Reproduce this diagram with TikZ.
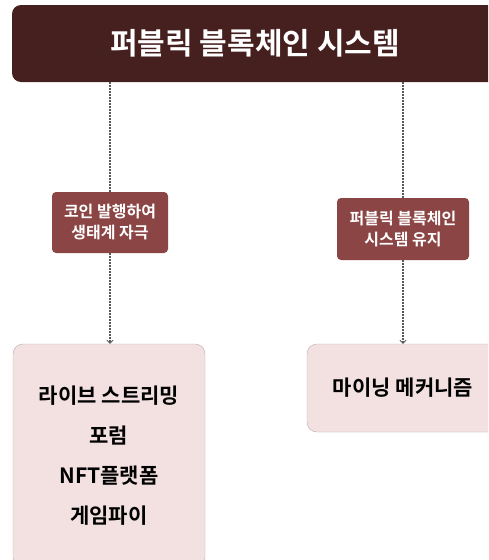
\documentclass[tikz,border=0pt]{standalone}
\usepackage{fontspec}
\setmainfont{Noto Sans CJK KR}[BoldFont={Noto Sans CJK KR Bold}]
\usetikzlibrary{arrows.meta}
\definecolor{titlebrown}{HTML}{45201F}
\definecolor{tagred}{HTML}{8B4545}
\definecolor{boxpink}{HTML}{F3E1E1}
\definecolor{boxline}{HTML}{B5ABAB}
\begin{document}
\begin{tikzpicture}[x=1pt,y=-1pt,
    titlebox/.style={fill=titlebrown,text=white,rounded corners=9pt,minimum width=486pt,minimum height=77pt,font=\bfseries\fontsize{30}{34}\selectfont},
    tagbox/.style={fill=tagred,text=white,rounded corners=4pt,align=center,font=\bfseries\fontsize{16}{21}\selectfont},
    itembox/.style={fill=boxpink,draw=boxline,rounded corners=10pt,align=center,minimum width=192pt,font=\bfseries\fontsize{21}{40}\selectfont},
    link/.style={draw=black!65,line width=1.3pt,dash pattern=on 1.3pt off 1.7pt},
    linkarr/.style={link,-{Straight Barb[length=3pt,width=6pt,line width=0.9pt]}}]
        \useasboundingbox (0,0) rectangle (488,560);
        \clip (0,0) rectangle (488,560);
        \node[titlebox] (title) at (255,43.5) {퍼블릭 블록체인 시스템};
        % 왼쪽 갈래
        \node[tagbox,minimum width=116pt,minimum height=61pt] (coin) at (110,222.5) {코인 발행하여\\생태계 자극};
        \node[itembox,minimum height=224pt] (apps) at (109,456) {라이브 스트리밍\\포럼\\NFT플랫폼\\게임파이};
        % 오른쪽 갈래
        \node[tagbox,minimum width=132pt,minimum height=62pt] (keep) at (403,229) {퍼블릭 블록체인\\시스템 유지};
        \node[itembox,minimum height=88pt] (mining) at (403,388) {마이닝 메커니즘};
        \draw[link] (title.south -| coin) -- (coin.north);
        \draw[linkarr] (coin.south) -- (apps.north -| coin);
        \draw[link] (title.south -| keep) -- (keep.north);
        \draw[linkarr] (keep.south) -- (mining.north);
\end{tikzpicture}
\end{document}
